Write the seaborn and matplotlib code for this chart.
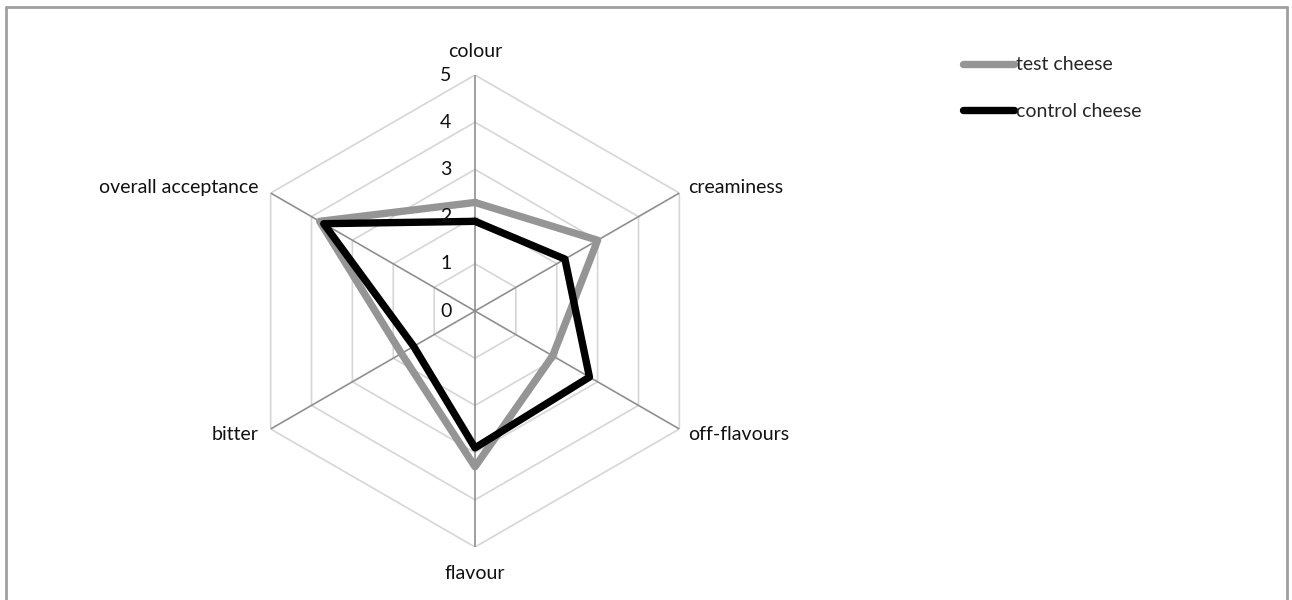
import numpy as np
import pandas as pd
import seaborn as sns
import matplotlib.pyplot as plt
from matplotlib.lines import Line2D

# attributes, clockwise from the top
attributes = ["colour", "creaminess", "off-flavours", "flavour", "bitter", "overall acceptance"]
test_cheese = [2.3, 3.0, 1.9, 3.3, 1.8, 3.8]
control_cheese = [1.9, 2.2, 2.8, 2.9, 1.5, 3.7]
series_names = ["test cheese", "control cheese"]
rings = [0, 1, 2, 3, 4, 5]

sns.set_theme(style="white")
plt.rcParams["font.family"] = ["Lato", "DejaVu Sans"]

n = len(attributes)
angles = np.arange(n) * 2 * np.pi / n
closed = np.append(angles, 2 * np.pi)

# long table, first value repeated at 2*pi to close each polygon
rows = []
for name, vals in zip(series_names, [test_cheese, control_cheese]):
    for theta, v in zip(closed, vals + vals[:1]):
        rows.append({"series": name, "theta": theta, "score": v})
df = pd.DataFrame(rows)

fig = plt.figure(figsize=(12.92, 6.0), dpi=100)
ax = fig.add_axes([0.185, 0.0883, 0.3653, 0.7867], projection="polar")
ax.set_theta_zero_location("N")
ax.set_theta_direction(-1)
ax.set_ylim(0, 5)
ax.grid(False)
ax.spines["polar"].set_visible(False)
ax.set_xticks([])
ax.set_yticks([])

# hexagonal rings and spokes
for r in rings[1:]:
    ax.plot(closed, [r] * len(closed), color="#d6d6d6", lw=1.2, zorder=1)
for a in angles:
    ax.plot([a, a], [0, 5], color="#8f8f8f", lw=1.2, zorder=1)

palette = {"test cheese": "#959595", "control cheese": "#000000"}
sns.lineplot(data=df, x="theta", y="score", hue="series", palette=palette,
             sort=False, estimator=None, lw=5.3, legend=False, ax=ax, zorder=3)
ax.set_xlabel("")
ax.set_ylabel("")

# value labels along the top spoke
for r in rings:
    ax.annotate(str(r), xy=(0, r), xytext=(-21, 0), textcoords="offset points",
                ha="center", va="center", fontsize=14, color="#111111")

# attribute labels
offsets = [(0, 17, "center"), (6, 4, "left"), (6, -4, "left"),
           (0, -19, "center"), (-9, -4, "right"), (-9, 4, "right")]
for a, lab, (dx, dy, ha) in zip(angles, attributes, offsets):
    ax.annotate(lab, xy=(a, 5), xytext=(dx, dy), textcoords="offset points",
                ha=ha, va="center", fontsize=14, color="#111111")

handles = [Line2D([], [], color=palette[s], lw=5.3, solid_capstyle="round") for s in series_names]
fig.legend(handles, series_names, loc="upper left", bbox_to_anchor=(0.732, 0.935),
           frameon=False, fontsize=14, handlelength=2.6, handletextpad=0.1,
           labelspacing=1.5)

# outer frame (left, top, right)
for xs, ys in [([6 / 1292, 6 / 1292], [0, 1 - 7 / 600]),
               ([6 / 1292, 1287 / 1292], [1 - 7 / 600, 1 - 7 / 600]),
               ([1287 / 1292, 1287 / 1292], [0, 1 - 7 / 600])]:
    fig.add_artist(Line2D(xs, ys, color="#a0a0a0", lw=2))

fig.savefig("out.png", dpi=100)
